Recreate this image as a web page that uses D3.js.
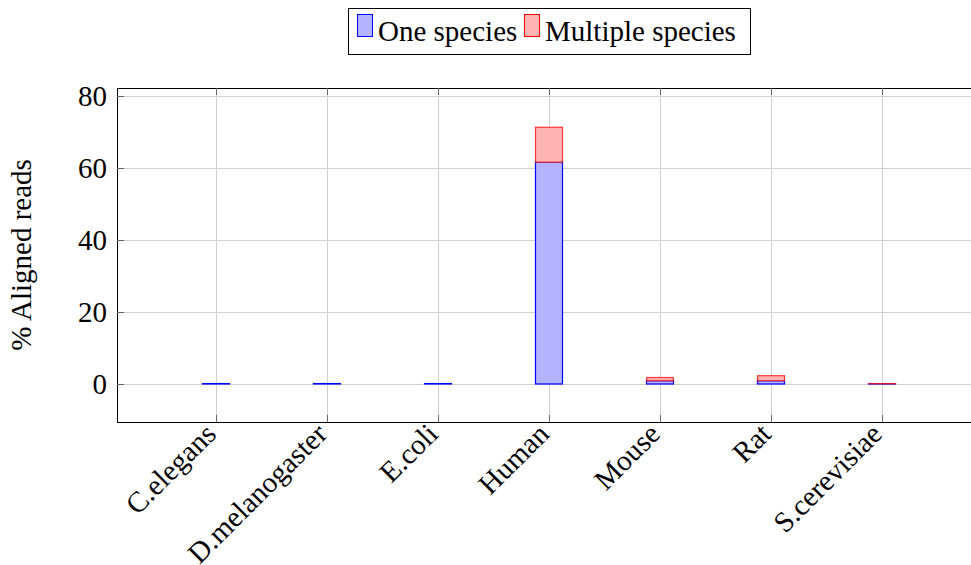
<!DOCTYPE html>
<html>
<head>
<meta charset="utf-8">
<script src="https://cdn.jsdelivr.net/npm/d3@7/dist/d3.min.js"></script>
<style>
  html, body { margin: 0; padding: 0; background: #fff; }
  svg { display: block; }
</style>
</head>
<body>
<svg id="chart" width="971" height="565"></svg>
<script>
// Species the reads were aligned against
const categories = ["C.elegans", "D.melanogaster", "E.coli", "Human", "Mouse", "Rat", "S.cerevisiae"];
// Percentage of reads aligned to one species only
const oneSpecies = [0.12, 0.12, 0.12, 61.6, 0.9, 0.9, 0.06];
// Percentage of reads aligned to multiple species
const multipleSpecies = [0, 0, 0, 9.7, 0.9, 1.4, 0.06];
const yTicks = [0, 20, 40, 60, 80];
const seriesNames = ["One species", "Multiple species"];

const FONT = "'Liberation Serif'";
const FS = 29;

const svg = d3.select("#chart");
const plot = { left: 117, right: 981, top: 88, bottom: 422 };

const x = d3.scalePoint().domain(categories).range([216, 882]);
const y = d3.scaleLinear().domain([-10.56, 82.2]).range([plot.bottom, plot.top]);
const barW = 27;

const fills = ["#b3b3ff", "#ffb3b3"];
const strokes = ["#0000ff", "#ff0000"];

// grid
const grid = svg.append("g");
yTicks.forEach(t => {
  grid.append("line")
    .attr("x1", plot.left).attr("x2", plot.right)
    .attr("y1", Math.round(y(t)) + 0.5).attr("y2", Math.round(y(t)) + 0.5)
    .attr("stroke", "#d0d0d0").attr("stroke-width", 1);
});
categories.forEach(c => {
  grid.append("line")
    .attr("x1", Math.round(x(c)) + 0.5).attr("x2", Math.round(x(c)) + 0.5)
    .attr("y1", plot.top).attr("y2", plot.bottom)
    .attr("stroke", "#d0d0d0").attr("stroke-width", 1);
});

// stacked bars
const stackData = categories.map((c, i) => ({ cat: c, one: oneSpecies[i], multi: multipleSpecies[i] }));
const stack = d3.stack().keys(["one", "multi"])(stackData);
stack.forEach((layer, k) => {
  svg.append("g").selectAll("rect")
    .data(layer.filter(d => d[1] - d[0] > 0))
    .join("rect")
    .attr("x", d => x(d.data.cat) - barW / 2)
    .attr("width", barW)
    .attr("y", d => y(d[1]))
    .attr("height", d => Math.max(0.01, y(d[0]) - y(d[1])))
    .attr("fill", fills[k])
    .attr("stroke", strokes[k])
    .attr("stroke-opacity", k === 1 ? 0.75 : 1)
    .attr("stroke-width", 1.2);
});

// axes frame
const axisColor = "#000";
svg.append("line").attr("x1", plot.left + 0.5).attr("x2", plot.left + 0.5)
  .attr("y1", plot.top).attr("y2", plot.bottom + 0.5).attr("stroke", axisColor);
svg.append("line").attr("x1", plot.left).attr("x2", plot.right)
  .attr("y1", plot.bottom + 0.5).attr("y2", plot.bottom + 0.5).attr("stroke", axisColor);
svg.append("line").attr("x1", plot.left).attr("x2", plot.right)
  .attr("y1", plot.top + 0.5).attr("y2", plot.top + 0.5).attr("stroke", axisColor);

// tick marks (inside)
yTicks.forEach(t => {
  svg.append("line").attr("x1", plot.left).attr("x2", plot.left + 7)
    .attr("y1", Math.round(y(t)) + 0.5).attr("y2", Math.round(y(t)) + 0.5)
    .attr("stroke", "#666");
});
categories.forEach(c => {
  const xx = Math.round(x(c)) + 0.5;
  svg.append("line").attr("x1", xx).attr("x2", xx)
    .attr("y1", plot.bottom).attr("y2", plot.bottom - 7).attr("stroke", "#666");
  svg.append("line").attr("x1", xx).attr("x2", xx)
    .attr("y1", plot.top).attr("y2", plot.top + 7).attr("stroke", "#666");
});

// y tick labels
svg.append("g").selectAll("text").data(yTicks).join("text")
  .attr("font-family", FONT)
  .attr("x", 107).attr("y", d => y(d))
  .attr("dy", "0.35em")
  .attr("text-anchor", "end")
  .attr("font-size", FS)
  .text(d => d);

// x tick labels, rotated
svg.append("g").selectAll("text").data(categories).join("text")
  .attr("font-family", FONT)
  .attr("transform", d => `translate(${x(d) - 11},${plot.bottom + 1}) rotate(-45)`)
  .attr("text-anchor", "end")
  .attr("dy", "0.62em")
  .attr("font-size", FS)
  .text(d => d);

// y axis title
svg.append("text")
  .attr("font-family", FONT)
  .attr("transform", `translate(31,${(plot.top + plot.bottom) / 2}) rotate(-90)`)
  .attr("text-anchor", "middle")
  .attr("font-size", FS)
  .text("% Aligned reads");

// legend
const lg = svg.append("g");
lg.append("rect").attr("x", 348.5).attr("y", 8.5).attr("width", 402).attr("height", 46)
  .attr("fill", "#fff").attr("stroke", "#000");
const swX = [357, 524];
const txX = [378, 545];
seriesNames.forEach((name, k) => {
  lg.append("rect").attr("x", swX[k] + 0.5).attr("y", 14.5).attr("width", 15).attr("height", 22)
    .attr("fill", fills[k]).attr("stroke", strokes[k]);
  lg.append("text").attr("font-family", FONT)
    .attr("x", txX[k]).attr("y", 41).attr("font-size", FS).text(name);
});
</script>
</body>
</html>
